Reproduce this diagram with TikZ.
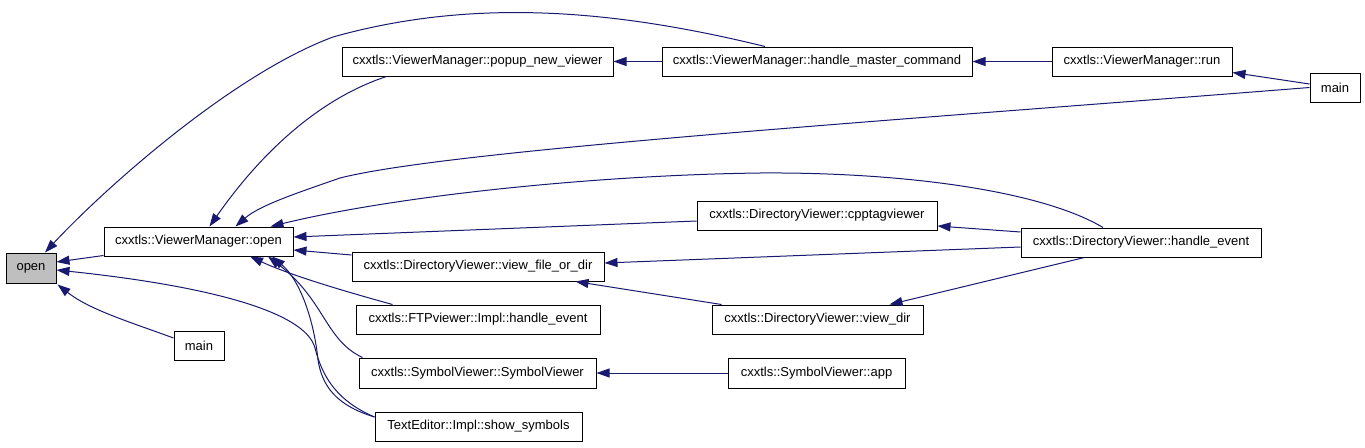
\documentclass[tikz,border=0pt]{standalone}
\usepackage{fontspec}
\setmainfont{Liberation Sans}
\usetikzlibrary{arrows.meta,calc}
\definecolor{edgecol}{HTML}{191970}
\definecolor{graybox}{HTML}{BFBFBF}
\begin{document}
\begin{tikzpicture}[x=1pt,y=-1pt,
  box/.style={draw=black, line width=1pt, fill=white, minimum height=29pt, inner sep=0pt,
    font=\fontsize{13}{15}\selectfont, anchor=center},
  call/.style={draw=edgecol, line width=1pt, -{Triangle[length=13pt,width=9pt]}}]
\useasboundingbox (0,0) rectangle (1365,447);

% nodes
\node[box, fill=graybox, minimum width=50pt, minimum height=30pt] (open) at (31,268) {open};
\node[box, minimum width=189pt] (vmopen) at (198.5,241.5) {cxxtls::ViewerManager::open};
\node[box, minimum width=50pt] (mainL) at (199,345.5) {main};
\node[box, minimum width=271pt] (popup) at (477.5,61.5) {cxxtls::ViewerManager::popup\_new\_viewer};
\node[box, minimum width=310pt] (hmc) at (817,61.5) {cxxtls::ViewerManager::handle\_master\_command};
\node[box, minimum width=180pt] (run) at (1142,61.5) {cxxtls::ViewerManager::run};
\node[box, minimum width=50pt] (mainR) at (1335,87.5) {main};
\node[box, minimum width=240pt] (cpptag) at (817,215.5) {cxxtls::DirectoryViewer::cpptagviewer};
\node[box, minimum width=240pt] (dvhe) at (1141,242.5) {cxxtls::DirectoryViewer::handle\_event};
\node[box, minimum width=252pt] (vfod) at (478,266.5) {cxxtls::DirectoryViewer::view\_file\_or\_dir};
\node[box, minimum width=244pt] (ftp) at (478,319.5) {cxxtls::FTPviewer::Impl::handle\_event};
\node[box, minimum width=237pt, minimum height=30pt] (symv) at (477.5,373) {cxxtls::SymbolViewer::SymbolViewer};
\node[box, minimum width=207pt] (show) at (478.5,426.5) {TextEditor::Impl::show\_symbols};
\node[box, minimum width=211pt] (viewdir) at (817.5,319.5) {cxxtls::DirectoryViewer::view\_dir};
\node[box, minimum width=177pt, minimum height=30pt] (app) at (816.5,373) {cxxtls::SymbolViewer::app};

% edges to open
\draw[call] ($(vmopen.south west)+(0,-1)$) -- ($(open.east)+(0,-6)$);
\draw[call] ($(mainL.west)+(0,-7.5)$) .. controls (130,322) and (90,310) .. ($(open.south east)+(1,1)$);
\draw[call] ($(show.west)+(0,-9.5)$) .. controls (335,400) and (322,375) .. (315,348)
  .. controls (305,310) and (200,285) .. ($(open.east)+(0,2)$);
\draw[call] ($(hmc.north)+(-52,0)$) .. controls (620,11) and (477,-3.5) .. (333,37)
  .. controls (231,75) and (103,190) .. ($(open.north)+(14,0)$);

% edges to ViewerManager::open
\draw[call] ($(popup.south west)+(45,0)$) .. controls (330,95) and (270,140) .. ($(vmopen.north)+(11,0)$);
\draw[call] (mainR.west) .. controls (900,120) and (450,150) .. (340,178)
  .. controls (300,192) and (260,205) .. ($(vmopen.north)+(37,0)$);
\draw[call] ($(dvhe.north)+(-38,0)$) .. controls (1040,190) and (900,172) .. (760,173)
  .. controls (600,175) and (400,195) .. ($(vmopen.north east)+(-23,0)$);
\draw[call] ($(cpptag.west)+(0,5.5)$) -- ($(vmopen.east)+(0,-4.5)$);
\draw[call] ($(vfod.west)+(0,-11.5)$) -- ($(vmopen.east)+(0,8.5)$);
\draw[call] ($(ftp.north west)+(37,0)$) .. controls (340,290) and (290,275) .. ($(vmopen.south)+(51.5,0)$);
\draw[call] ($(symv.north west)+(4,0)$) .. controls (325,340) and (325,300) .. ($(vmopen.south)+(69.5,0)$);
\draw[call] ($(show.west)+(0,-9.5)$) .. controls (335,405) and (322,385) .. (318,360)
  .. controls (314,320) and (300,280) .. ($(vmopen.south)+(73.5,0)$);

% other edges
\draw[call] (hmc.west) -- (popup.east);
\draw[call] (run.west) -- (hmc.east);
\draw[call] ($(mainR.west)+(0,-3.5)$) -- ($(run.south east)+(0,-4)$);
\draw[call] ($(dvhe.west)+(0,-10.5)$) -- ($(cpptag.east)+(0,10.5)$);
\draw[call] ($(dvhe.west)+(0,4.5)$) -- ($(vfod.east)+(0,-3.5)$);
\draw[call] ($(dvhe.south west)+(64,0)$) .. controls (1020,273) and (950,290) .. ($(viewdir.north west)+(178,0)$);
\draw[call] ($(viewdir.north west)+(10,0)$) -- ($(vfod.south east)+(-29,0)$);
\draw[call] (app.west) -- (symv.east);
\end{tikzpicture}
\end{document}
